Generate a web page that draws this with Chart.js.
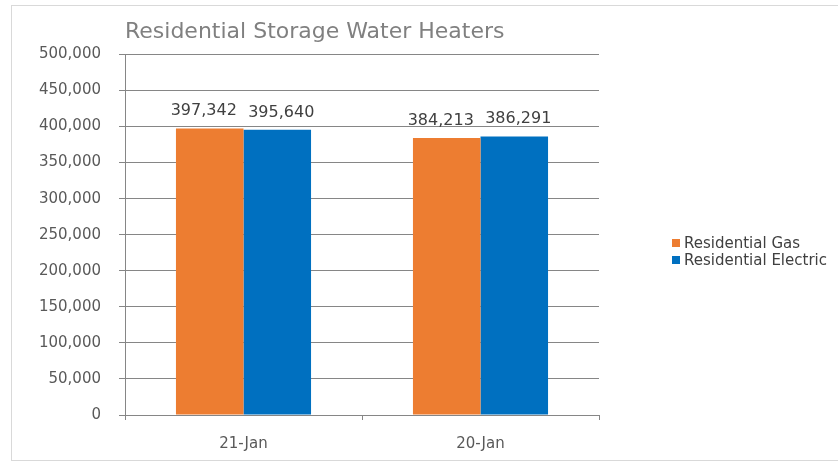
<!DOCTYPE html>
<html>
<head>
<meta charset="utf-8">
<script src="https://cdn.jsdelivr.net/npm/chart.js@4.4.1/dist/chart.umd.min.js"></script>
<style>
  html, body { margin: 0; padding: 0; background: #fff; }
  #wrap { width: 838px; height: 464px; position: relative; }
</style>
</head>
<body>
<div id="wrap"><canvas id="chart"></canvas></div>
<script>
const chartTitle = 'Residential Storage Water Heaters';
const categories = ['21-Jan', '20-Jan'];
const seriesNames = ['Residential Gas', 'Residential Electric'];
const gasValues = [397342, 384213];
const electricValues = [395640, 386291];
const seriesColors = ['#ED7D31', '#0070C0'];
const yMin = 0;
const yMax = 500000;
const yStep = 50000;

const FONT = '"DejaVu Sans", "Open Sans", sans-serif';
const fmt = v => Number(v).toLocaleString('en-US');

// light grey frame round the whole chart, like the Excel chart area
const framePlugin = {
  id: 'frame',
  beforeDraw(chart) {
    const { ctx } = chart;
    ctx.save();
    ctx.fillStyle = '#fff';
    ctx.fillRect(0, 0, chart.width, chart.height);
    ctx.strokeStyle = '#d9d9d9';
    ctx.lineWidth = 1;
    ctx.strokeRect(11.5, 5.5, chart.width, 455);
    ctx.restore();
  }
};

// value labels above each bar
const valueLabels = {
  id: 'valueLabels',
  afterDatasetsDraw(chart) {
    const { ctx } = chart;
    const shift = [-6, 4];
    ctx.save();
    ctx.font = '16px ' + FONT;
    ctx.fillStyle = '#404040';
    ctx.textAlign = 'center';
    ctx.textBaseline = 'alphabetic';
    chart.data.datasets.forEach((ds, i) => {
      chart.getDatasetMeta(i).data.forEach((bar, j) => {
        ctx.fillText(fmt(ds.data[j]), bar.x + shift[i], bar.y - 13);
      });
    });
    ctx.restore();
  }
};

// legend sits well to the right of the plot, vertically a bit below centre
const sideLegend = {
  id: 'sideLegend',
  afterDraw(chart) {
    const { ctx } = chart;
    ctx.save();
    ctx.font = '15px ' + FONT;
    ctx.textBaseline = 'middle';
    chart.data.datasets.forEach((ds, i) => {
      const y = 243 + i * 17;
      ctx.fillStyle = ds.backgroundColor;
      ctx.fillRect(672, y - 4, 8, 8);
      ctx.fillStyle = '#404040';
      ctx.fillText(ds.label, 684, y + 1);
    });
    ctx.restore();
  }
};

new Chart(document.getElementById('chart'), {
  type: 'bar',
  data: {
    labels: categories,
    datasets: [
      { label: seriesNames[0], data: gasValues, backgroundColor: seriesColors[0] },
      { label: seriesNames[1], data: electricValues, backgroundColor: seriesColors[1] },
    ].map(ds => ({ ...ds, borderWidth: 0, categoryPercentage: 0.57, barPercentage: 1.0 })),
  },
  options: {
    responsive: true,
    maintainAspectRatio: false,
    animation: false,
    layout: { padding: { left: 12, top: 5, right: 239, bottom: 0 } },
    scales: {
      x: {
        grid: { display: true, drawOnChartArea: false, drawTicks: true, tickLength: 5, offset: true, color: '#868686' },
        border: { display: true, color: '#868686' },
        ticks: { color: '#595959', font: { family: FONT, size: 15 }, padding: 15 },
        afterFit: s => { s.height = 49; },
      },
      y: {
        min: yMin,
        max: yMax,
        grid: { color: '#868686', tickLength: 6 },
        border: { display: true, color: '#868686' },
        ticks: { stepSize: yStep, color: '#595959', font: { family: FONT, size: 15 }, padding: 18, callback: v => fmt(v) },
        afterFit: s => { s.width = 113; },
      },
    },
    plugins: {
      legend: { display: false },
      tooltip: { enabled: false },
      title: {
        display: true,
        text: chartTitle,
        align: 'start',
        fullSize: false,
        color: '#808080',
        font: { family: FONT, size: 22, weight: 'normal' },
        padding: { top: 14, bottom: 9 },
      },
    },
  },
  plugins: [framePlugin, valueLabels, sideLegend],
});
</script>
</body>
</html>
